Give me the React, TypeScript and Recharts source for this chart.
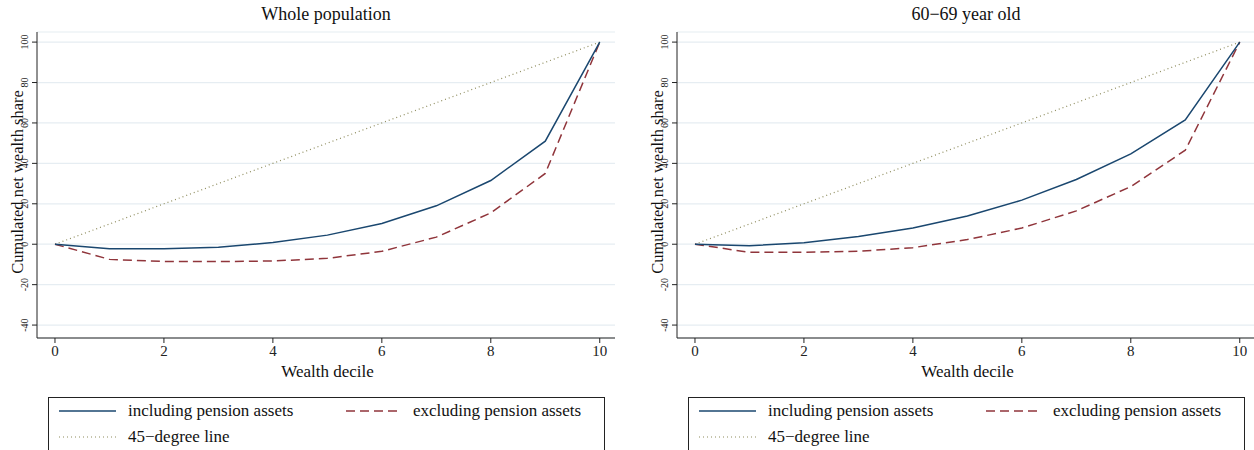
import { LineChart, Line, XAxis, YAxis, CartesianGrid } from "recharts"

const deciles = [0, 1, 2, 3, 4, 5, 6, 7, 8, 9, 10]
const wholeIncl = [0, -2.3, -2.2, -1.5, 0.8, 4.5, 10.3, 19, 31.5, 51, 100]
const wholeExcl = [0, -7.5, -8.5, -8.6, -8.3, -7, -3.5, 3.5, 15.5, 35, 100]
const oldIncl = [0, -0.7, 0.7, 3.8, 8, 14, 21.8, 32, 44.7, 61.5, 100]
const oldExcl = [0, -4, -4, -3.5, -1.7, 2.3, 8, 16.5, 28.5, 46.5, 100]
const diagonal = [0, 10, 20, 30, 40, 50, 60, 70, 80, 90, 100]
const xTicks = [0, 2, 4, 6, 8, 10]
const yTicks = [-40, -20, 0, 20, 40, 60, 80, 100]

const font = "'Liberation Serif', 'DejaVu Serif', serif"
const blue = "#1a476f"
const red = "#90353b"
const olive = "#8d8b5c"

const YTick = (props: any) => {
  const { x, y, payload } = props
  return (
    <text x={x - 2} y={y} transform={`rotate(-90 ${x - 2} ${y})`} textAnchor="middle" fontSize={10} fontFamily={font} fill="#222">
      {payload.value}
    </text>
  )
}

function Panel({ left, title, incl, excl }: { left: number; title: string; incl: number[]; excl: number[] }) {
  const data = deciles.map((d, i) => ({ d, incl: incl[i], excl: excl[i], diag: diagonal[i] }))
  return (
    <div style={{ position: "absolute", left, top: 0, width: 627, height: 450, fontFamily: font, color: "#111" }}>
      <div style={{ position: "absolute", left: 37, width: 578, top: 4, textAlign: "center", fontSize: 18 }}>{title}</div>
      <div style={{ position: "absolute", left: 18, top: 182, width: 0, height: 0 }}>
        <div style={{ position: "absolute", transform: "translate(-50%,-50%) rotate(-90deg)", whiteSpace: "nowrap", fontSize: 16.5 }}>
          Cumulated net wealth share
        </div>
      </div>
      <div style={{ position: "absolute", left: 55, width: 545, top: 362, textAlign: "center", fontSize: 17 }}>Wealth decile</div>
      <LineChart width={627} height={385} data={data} margin={{ top: 32, right: 12, bottom: 17, left: 7 }}>
        <CartesianGrid horizontal vertical={false} stroke="#e6edf2" strokeWidth={1.2} />
        <XAxis
          dataKey="d"
          type="number"
          domain={[-0.33, 10.28]}
          ticks={xTicks}
          stroke="#222"
          tickSize={5}
          tick={{ fontSize: 15, fontFamily: font, fill: "#222" }}
        />
        <YAxis
          type="number"
          domain={[-46.4, 105]}
          ticks={yTicks}
          width={30}
          stroke="#222"
          tickSize={5}
          tick={<YTick />}
        />
        <Line dataKey="diag" stroke={olive} strokeWidth={1.2} strokeDasharray="1 3" dot={false} isAnimationActive={false} />
        <Line dataKey="excl" stroke={red} strokeWidth={1.5} strokeDasharray="9 5" dot={false} isAnimationActive={false} />
        <Line dataKey="incl" stroke={blue} strokeWidth={1.5} dot={false} isAnimationActive={false} />
      </LineChart>
      <div style={{ position: "absolute", left: 48, top: 397, width: 557, height: 60, border: "1px solid #222", boxSizing: "border-box" }}>
        <svg width={557} height={60} style={{ position: "absolute", left: 0, top: 0 }}>
          <line x1={10} x2={67} y1={13} y2={13} stroke={blue} strokeWidth={1.5} />
          <line x1={297} x2={352} y1={13} y2={13} stroke={red} strokeWidth={1.5} strokeDasharray="9 5" />
          <line x1={10} x2={67} y1={39} y2={39} stroke={olive} strokeWidth={1.2} strokeDasharray="1 3" />
          <text x={79} y={18} fontSize={17} fontFamily={font} fill="#111">including pension assets</text>
          <text x={364} y={18} fontSize={17} fontFamily={font} fill="#111">excluding pension assets</text>
          <text x={79} y={44} fontSize={17} fontFamily={font} fill="#111">45−degree line</text>
        </svg>
      </div>
    </div>
  )
}

export default function App() {
  return (
    <div style={{ position: "absolute", left: 0, top: 0, width: 1254, height: 450, background: "#fff", overflow: "hidden" }}>
      <Panel left={0} title="Whole population" incl={wholeIncl} excl={wholeExcl} />
      <Panel left={640} title="60−69 year old" incl={oldIncl} excl={oldExcl} />
    </div>
  )
}
